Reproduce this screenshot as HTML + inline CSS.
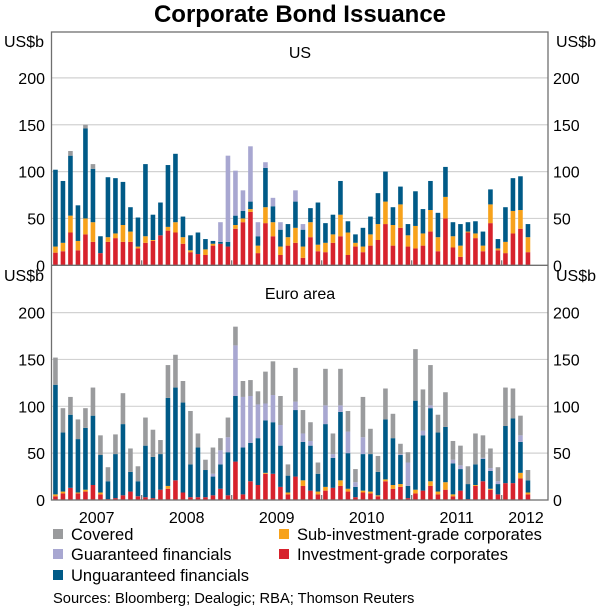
<!DOCTYPE html>
<html><head><meta charset="utf-8">
<style>
html,body{margin:0;padding:0;background:#fff;}
svg{display:block;font-family:"Liberation Sans",Arial,sans-serif;}
</style></head>
<body>
<svg id="chart" width="600" height="607" viewBox="0 0 600 607" xmlns="http://www.w3.org/2000/svg">
<text x="300" y="22" text-anchor="middle" font-size="24" font-weight="bold" fill="#000">Corporate Bond Issuance</text>
<g id="grid"></g>
<g id="bars"></g>
<g id="axes"></g>
<g id="legend"></g>
<text x="53" y="603" font-size="14.7" fill="#000">Sources: Bloomberg; Dealogic; RBA; Thomson Reuters</text>
</svg>
<script>
// Jan 2007 – Apr 2012 monthly, US$b
const usInvestmentGrade=[13.5,15,35,16,33,25,13,25,29,25,25,18,24,26,32,37,35,23,14,12,11,21,23,20,39,46,57,13,45,31,11,21,24,8,30,15,14,24,31,11,20,14,21,27,44,21,40,20,18,21,36,15,50,19,9,35,29,15,45,16,13,34,39,14];
const usSubInvestment=[6.5,9,18,10,17,21,0,5,5,18,11,2,7,1,0,4,11,7,2,0,6,2,0,0,4,4,3,8,17,15,9,9,16,12,16,7,10,9,23,24,4,6,12,17,24,22,25,12,24,13,23,15,23,12,12,1,5,6,20,2,12,24,20,16];
const usUnguaranteed=[82,66,64,38,96,57,18,64,59,46,26,31,77,27,35,66,73,22,16,23,11,3,2,5,10,8,8,10,42,17,18,14,28,18,15,45,21,21,36,12,9,20,19,33,32,19,19,12,37,26,31,26,32,15,23,10,13,15,16,10,37,35,36,14];
const usGuaranteed=[0,0,0,0,0,0,0,0,0,0,0,0,0,0,0,0,0,0,0,0,0,0,21,92,48,22,59,15,6,9,8,0,12,6,0,0,0,0,0,0,0,0,0,0,0,0,0,0,0,0,0,0,0,0,0,0,0,0,0,0,0,0,0,0];
const usCovered=[0,0,5,0,4,5,0,0,0,0,0,0,0,0,0,0,0,0,0,0,0,0,0,0,0,0,0,0,0,0,0,0,0,0,0,0,0,0,0,0,0,0,0,0,0,0,0,0,0,0,0,0,0,0,0,0,0,0,0,0,0,0,0,0];
const euInvestmentGrade=[4,7,13,7,9,16,6,1,2,5,9,4,3,2,11,12,21,8,3,3,3,5,12,5,41,6,20,16,28,28,14,6,25,15,10,6,10,13,15,9,3,8,7,4,20,12,14,2,7,10,15,6,11,4,10,1,15,20,11,6,18,18,23,6];
const euSubInvestment=[2,2,0,1,2,0,2,0,0,0,0,0,0,0,0,3,0,0,0,0,0,0,0,0,0,0,0,0,1,0,0,2,0,6,0,3,4,0,6,3,0,2,2,1,2,4,3,0,4,0,5,3,8,2,0,0,1,0,1,0,0,0,6,2];
const euUnguaranteed=[117,63,78,57,66,74,40,19,47,76,21,16,55,44,38,94,99,96,35,53,29,20,26,46,70,50,41,50,56,55,44,18,71,41,48,19,67,32,73,38,11,39,40,25,64,50,31,13,95,59,78,63,59,33,23,16,22,24,19,11,61,69,33,13];
const euGuaranteed=[0,0,0,0,0,0,0,0,0,0,0,0,0,0,0,0,0,0,0,0,0,3,15,16,54,54,50,36,18,29,22,0,9,9,5,0,20,4,7,23,5,18,0,0,0,0,1,25,0,5,3,0,0,4,4,0,0,1,3,3,0,0,7,0];
const euCovered=[29,26,19,21,21,30,21,15,21,33,25,16,30,29,15,35,35,23,57,15,11,28,13,21,20,17,17,14,34,36,31,12,36,25,20,12,39,22,39,22,14,43,27,17,33,26,11,11,55,44,43,19,37,20,21,19,33,24,21,15,41,32,21,11];
const yTicks=[0,50,100,150,200];
const yearLabels=["2007","2008","2009","2010","2011","2012"];

const NS="http://www.w3.org/2000/svg";
const colors={ig:"#d7222c",sub:"#f7a21b",ung:"#005a87",gua:"#a8a7d1",cov:"#9a9b9d"};
const plotL=51.5, plotR=548, plotTop=32;
const monthW=7.5, firstMonthX=51.7, barW=4.6;
const panels=[
  {name:"us",zero:265.3,series:[usInvestmentGrade,usSubInvestment,usUnguaranteed,usGuaranteed,usCovered]},
  {name:"euro-area",zero:500,series:[euInvestmentGrade,euSubInvestment,euUnguaranteed,euGuaranteed,euCovered]}
];
const keys=["ig","sub","ung","gua","cov"];
const keyNames=["investment-grade","sub-investment-grade","unguaranteed","guaranteed","covered"];
const scale=0.937;
function xScale(i){return firstMonthX+monthW*i+monthW/2;}
function yScale(p,v){return p.zero-v*scale;}
function mk(tag,attrs,parent){const e=document.createElementNS(NS,tag);for(const k in attrs)e.setAttribute(k,attrs[k]);parent.appendChild(e);return e;}

const grid=document.getElementById('grid'),bars=document.getElementById('bars'),axes=document.getElementById('axes'),legend=document.getElementById('legend');

panels.forEach(p=>{
  yTicks.forEach(t=>{
    const y=yScale(p,t);
    if(t>0){
      const l=mk('line',{x1:plotL,x2:plotR,y1:y,y2:y,stroke:"#d2d2d2","stroke-width":1.2},grid);
      
      
    }
    const tl=mk('text',{x:45,y:y+6,"text-anchor":"end","font-size":16,fill:"#000"},axes);
    tl.textContent=t;
    
    
    const tr=mk('text',{x:553,y:y+6,"text-anchor":"start","font-size":16,fill:"#000"},axes);
    tr.textContent=t;
    
    
  });
  const n=p.series[0].length;
  for(let i=0;i<n;i++){
    let cum=0;
    p.series.forEach((s,k)=>{
      const v=s[i];
      if(v<=0)return;
      const y0=yScale(p,cum),y1=yScale(p,cum+v);
      const r=mk('rect',{x:xScale(i)-barW/2,y:y1,width:barW,height:y0-y1,fill:colors[keys[k]]},bars);
      
      
      cum+=v;
    });
  }
});

const fr=mk('rect',{x:plotL,y:plotTop,width:plotR-plotL,height:500-plotTop,fill:"none",stroke:"#6f6f6f","stroke-width":1.3},axes);


const dv=mk('line',{x1:plotL,x2:plotR,y1:265.3,y2:265.3,stroke:"#6f6f6f","stroke-width":1.3},axes);


[[4,47,'start','unit-label-top-left'],[596,47,'end','unit-label-top-right'],[4,281,'start','unit-label-bottom-left'],[596,281,'end','unit-label-bottom-right']].forEach(a=>{
  const t=mk('text',{x:a[0],y:a[1],"text-anchor":a[2],"font-size":16,fill:"#000"},axes);
  t.textContent="US$b";
  
  
});
const pt1=mk('text',{x:300,y:58,"text-anchor":"middle","font-size":16,fill:"#000"},axes);
pt1.textContent="US";


const pt2=mk('text',{x:300,y:299,"text-anchor":"middle","font-size":16,fill:"#000"},axes);
pt2.textContent="Euro area";


yearLabels.forEach((yl,j)=>{
  const x0=firstMonthX+j*12*monthW;
  if(j>0){
    [265.3,500].forEach(z=>{
      const tk=mk('line',{x1:x0,x2:x0,y1:z,y2:z-5,stroke:"#6f6f6f","stroke-width":1.2},axes);
      
      
    });
  }
  const t=mk('text',{x:j===5?526:x0+6*monthW,y:523,"text-anchor":"middle","font-size":16,fill:"#000"},axes);
  t.textContent=yl;
  
  
});
const leg=[["Covered","cov",53,539],["Guaranteed financials","gua",53,559],["Unguaranteed financials","ung",53,580],["Sub-investment-grade corporates","sub",279,539],["Investment-grade corporates","ig",279,559]];
leg.forEach(l=>{
  const g=mk('g',{},legend);
  
  
  const r=mk('rect',{x:l[2],y:l[3]-10,width:10,height:10,fill:colors[l[1]]},g);
  
  
  const t=mk('text',{x:l[2]+18,y:l[3]+1,"font-size":16.5,fill:"#000"},g);
  t.textContent=l[0];
  
  
});
</script>
</body></html>
